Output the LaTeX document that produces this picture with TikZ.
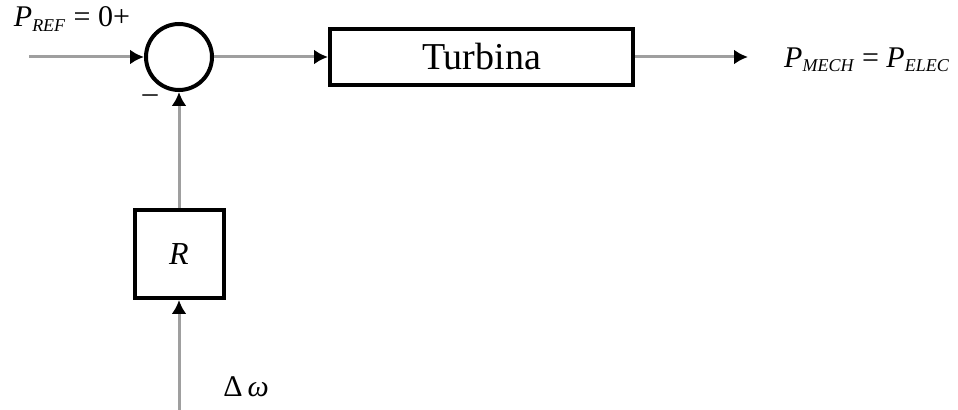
\documentclass[tikz,border=0pt]{standalone}
\usepackage{fontspec}
\setmainfont{Liberation Serif}
\usetikzlibrary{arrows.meta}
\newcommand{\subtxt}[1]{\textsubscript{\fontsize{9}{10}\selectfont\itshape #1}}
\begin{document}
\begin{tikzpicture}[x=0.5pt, y=-0.5pt, font=\fontsize{19}{22}\selectfont,
    blok/.style={draw, line width=2pt, inner sep=0pt},
    sig/.style={draw=gray!75, line width=1.5pt, -{Latex[length=7pt,width=7.5pt,color=black]}},
    lbl/.style={inner sep=0pt, font=\fontsize{15}{18}\selectfont}]
  \useasboundingbox (0,0) rectangle (958,410);
  % blocks
  \node[blok, circle, minimum size=33pt] (sum) at (179,57) {};
  \node[blok, minimum width=151.5pt, minimum height=28pt] (turb) at (481.5,57) {Turbina};
  \node[blok, minimum width=44.5pt, minimum height=44pt, font=\fontsize{16}{18}\selectfont] (R) at (179,254) {\textit{R}};
  \coordinate (in) at (29,57);
  \coordinate (out) at (748,57);
  \coordinate (dw) at (179,410);
  % labels
  \node[lbl] (pref) at (72,19) {\textit{P}\subtxt{REF} = 0+};
  \node[lbl] (minus) at (150,99) {–};
  \node[lbl] (pmech) at (867,60) {\textit{P}\subtxt{MECH} = \textit{P}\subtxt{ELEC}};
  \node[lbl] (domega) at (246,387) {Δ\,\textit{ω}};
  % signals
  \draw[sig] (in) -- (sum);
  \draw[sig] (sum) -- (turb);
  \draw[sig] (turb) -- (out);
  \draw[sig] (R) -- (sum);
  \draw[sig] (dw) -- (R);
\end{tikzpicture}
\end{document}
